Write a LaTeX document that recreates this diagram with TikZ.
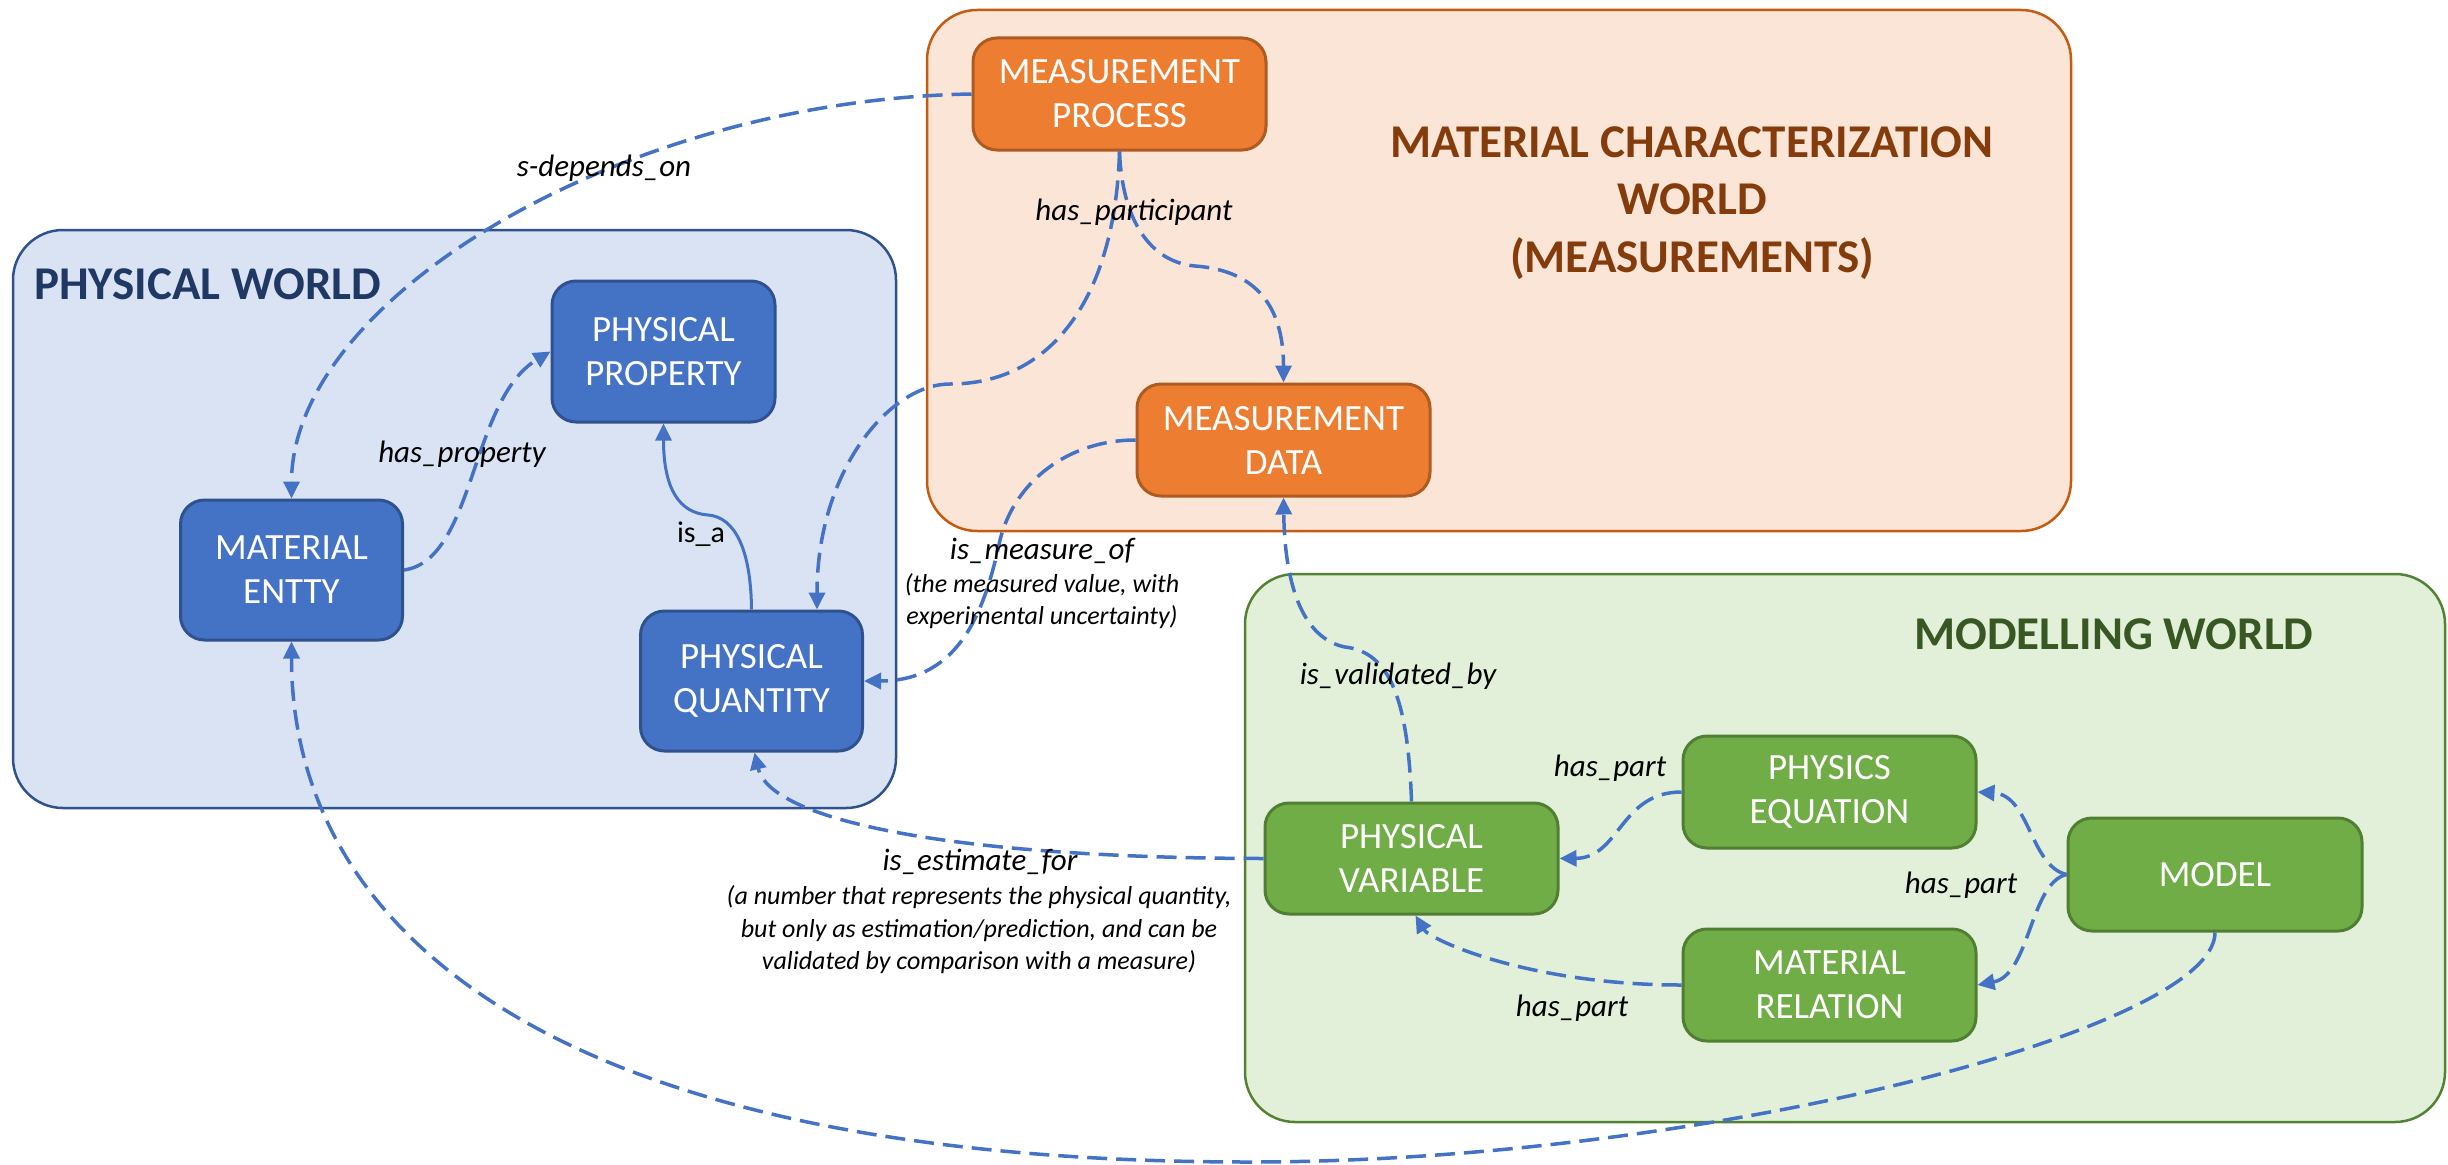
\documentclass[tikz,border=0pt]{standalone}
\usepackage{fontspec}
\setmainfont{Carlito}
\usetikzlibrary{arrows.meta}

\definecolor{pwfill}{HTML}{DAE3F3}
\definecolor{pwline}{HTML}{2F528F}
\definecolor{pwtext}{HTML}{1F3864}
\definecolor{mcfill}{HTML}{FBE5D6}
\definecolor{mcline}{HTML}{C55A11}
\definecolor{mctext}{HTML}{843C0C}
\definecolor{mwfill}{HTML}{E2F0D9}
\definecolor{mwline}{HTML}{548235}
\definecolor{mwtext}{HTML}{385723}
\definecolor{bluenode}{HTML}{4472C4}
\definecolor{bluenodeline}{HTML}{2F528F}
\definecolor{orangenode}{HTML}{ED7D31}
\definecolor{orangenodeline}{HTML}{AE5A21}
\definecolor{greennode}{HTML}{70AD47}
\definecolor{greennodeline}{HTML}{507E32}
\definecolor{linkcol}{HTML}{4472C4}

\begin{document}
\begin{tikzpicture}[x=1pt,y=-1pt,
  world/.style={rectangle, line width=2.5pt, rounded corners=50pt, inner sep=0pt},
  worldtitle/.style={inner sep=0pt, align=center, font=\fontsize{47}{57.5}\selectfont\bfseries},
  concept/.style={rectangle, rounded corners=24pt, line width=3pt, inner sep=0pt,
    align=center, text=white, font=\fontsize{37}{44}\selectfont},
  bluebox/.style={concept, fill=bluenode, draw=bluenodeline, minimum width=222pt, minimum height=140pt},
  orangebox/.style={concept, fill=orangenode, draw=orangenodeline, minimum width=293pt, minimum height=112pt},
  greenbox/.style={concept, fill=greennode, draw=greennodeline, minimum width=293pt, minimum height=112pt},
  link/.style={draw=linkcol, line width=3.5pt, dash pattern=on 20pt off 9pt,
    -{Triangle[length=17pt,width=16pt]}},
  solidlink/.style={draw=linkcol, line width=3pt, -{Triangle[length=17pt,width=16pt]}},
  lbl/.style={inner sep=0pt, font=\fontsize{31}{38}\selectfont\itshape},
  uplbl/.style={inner sep=0pt, font=\fontsize{30}{36}\selectfont},
  note/.style={inner sep=0pt, align=center, font=\fontsize{26}{32.5}\selectfont\itshape}
]
\useasboundingbox (0,0) rectangle (2448,1164);

% the three worlds
\node (pw) [world, fill=pwfill, draw=pwline, minimum width=883pt, minimum height=578pt] at (454.5,519) {};
\node (mc) [world, fill=mcfill, draw=mcline, minimum width=1144pt, minimum height=521pt] at (1499,270.5) {};
\node (mw) [world, fill=mwfill, draw=mwline, minimum width=1200pt, minimum height=548pt] at (1845,848) {};

\node (pwtitle) [worldtitle, text=pwtext, anchor=west] at (34,284) {PHYSICAL WORLD};
\node (mctitle) [worldtitle, text=mctext] at (1692,203) {MATERIAL CHARACTERIZATION\\WORLD\\(MEASUREMENTS)};
\node (mwtitle) [worldtitle, text=mwtext] at (2114,634) {MODELLING WORLD};

% physical world concepts
\node (pp) [bluebox, minimum width=223pt, minimum height=141pt] at (663.5,351.5) {PHYSICAL\\PROPERTY};
\node (me) [bluebox] at (291.5,570) {MATERIAL\\ENTTY};
\node (pq) [bluebox] at (751.5,681) {PHYSICAL\\QUANTITY};

% characterization concepts
\node (mp) [orangebox] at (1119.5,94) {MEASUREMENT\\PROCESS};
\node (md) [orangebox] at (1283.5,440) {MEASUREMENT\\DATA};

% modelling concepts
\node (pv) [greenbox, minimum height=111pt] at (1411.5,858.5) {PHYSICAL\\VARIABLE};
\node (pe) [greenbox] at (1829.5,792) {PHYSICS\\EQUATION};
\node (mr) [greenbox] at (1829.5,985) {MATERIAL\\RELATION};
\node (mo) [greenbox, minimum width=294pt, minimum height=113pt] at (2215,874.5) {MODEL};

% relations
\draw[link] (mp.west) .. controls (620,100) and (291.5,300) .. (me.north);
\draw[link] (mp.south) .. controls (1122,220) and (1150,262) .. (1195,266)
  .. controls (1250,270) and (1283.5,300) .. (md.north);
\draw[link] (mp.south) .. controls (1115,300) and (1050,384) .. (950,384)
  .. controls (890,384) and (817,470) .. ([xshift=65.5pt]pq.north);
\draw[link] (md.west) .. controls (1070,440) and (1015,480) .. (1000,540)
  .. controls (985,610) and (960,681) .. (pq.east);
\draw[link] (me.east) .. controls (475,560) and (470,400) .. (pp.west);
\draw[solidlink] (pq.north) .. controls (751,550) and (735,517) .. (708,515)
  .. controls (680,513) and (663.5,490) .. (pp.south);
\draw[link] (pv.north) .. controls (1408,700) and (1390,652) .. (1345,647)
  .. controls (1310,640) and (1285,600) .. (md.south);
\draw[link] (pv.west) .. controls (950,858) and (770,820) .. ([xshift=3pt]pq.south);
\draw[link] (pe.west) .. controls (1620,792) and (1620,858) .. (pv.east);
\draw[link] (mr.west) .. controls (1530,985) and (1430,940) .. ([xshift=4pt]pv.south);
\draw[link] (mo.west) .. controls (2030,866) and (2030,795) .. (pe.east);
\draw[link] (mo.west) .. controls (2030,883) and (2030,975) .. (mr.east);
\draw[link] (mo.south) .. controls (2215,1030) and (1700,1162) .. (1250,1162)
  .. controls (550,1162) and (291.5,930) .. (me.south);

% relation labels
\node (l1) [lbl] at (604,168) {s-depends\_on};
\node (l2) [lbl] at (462,454) {has\_property};
\node (l3) [uplbl] at (701,534) {is\_a};
\node (l4) [lbl] at (1134,212) {has\_participant};
\node (l5) [lbl] at (1042,551) {is\_measure\_of};
\node (l5n) [note] at (1042,601) {(the measured value, with\\experimental uncertainty)};
\node (l6) [lbl] at (980,862) {is\_estimate\_for};
\node (l6n) [note] at (979,930) {(a number that represents the physical quantity,\\but only as estimation/prediction, and can be\\validated by comparison with a measure)};
\node (l7) [lbl] at (1398,676) {is\_validated\_by};
\node (l8) [lbl] at (1610,768) {has\_part};
\node (l9) [lbl] at (1961,885) {has\_part};
\node (l10) [lbl] at (1572,1008) {has\_part};
\end{tikzpicture}
\end{document}
